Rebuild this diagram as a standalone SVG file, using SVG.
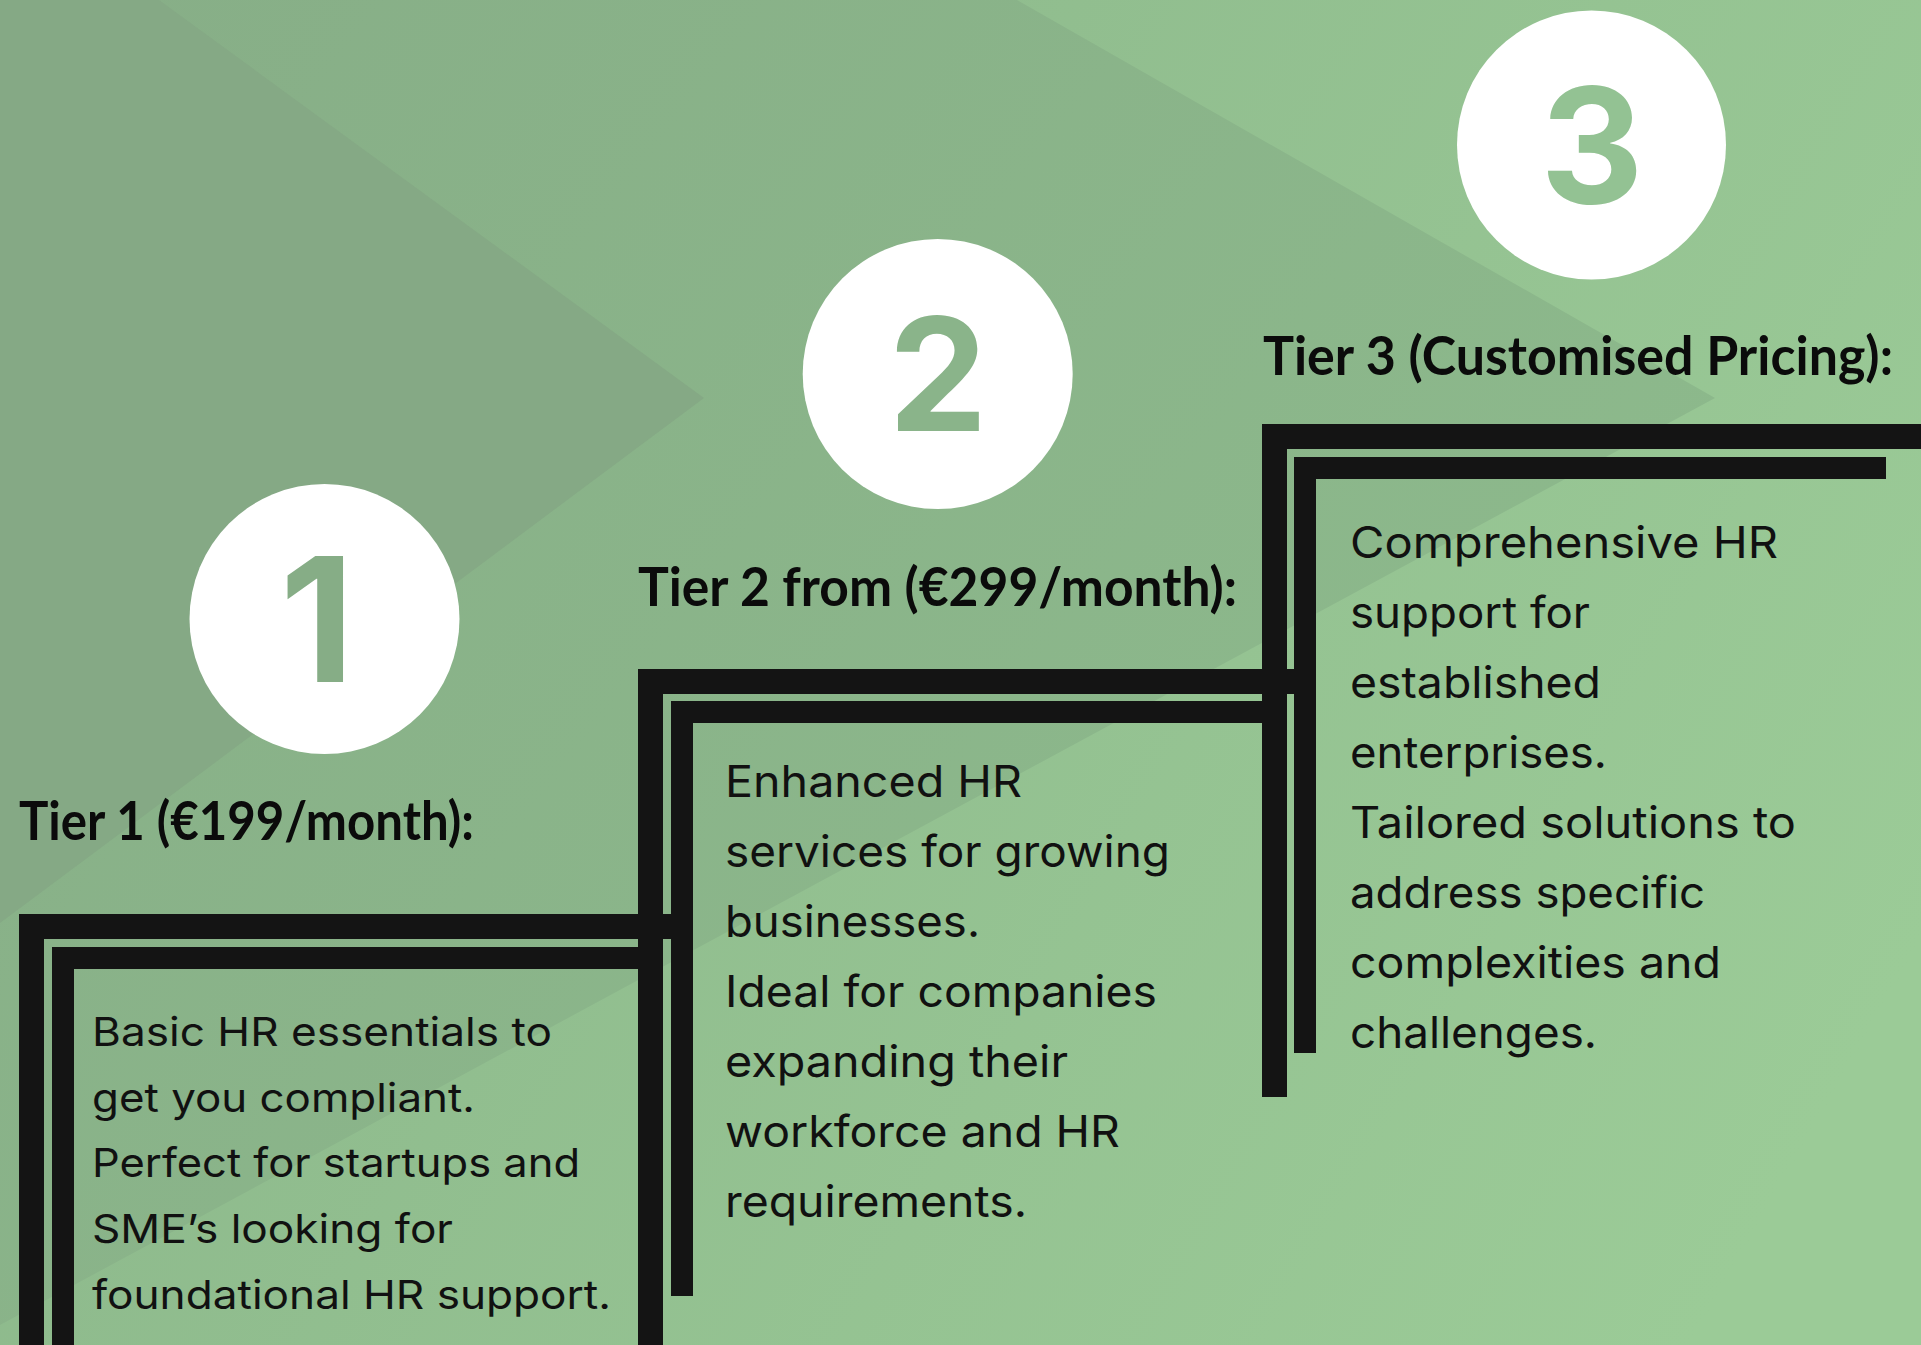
<svg xmlns="http://www.w3.org/2000/svg" width="1921" height="1345" viewBox="0 0 1921 1345">
  <defs>
    <linearGradient id="bgLight" x1="0" y1="0.3" x2="1" y2="0.7">
      <stop offset="0" stop-color="#8bb68a"/>
      <stop offset="1" stop-color="#9bcb97"/>
    </linearGradient>
    <linearGradient id="bgMid" x1="0" y1="0" x2="1" y2="0.6">
      <stop offset="0" stop-color="#87ae87"/>
      <stop offset="1" stop-color="#8dba8c"/>
    </linearGradient>
    <style>
      .bar { fill: #141414; }
      .badge { fill: #ffffff; }
      .digit { font-family: Inter, "Liberation Sans", sans-serif; font-weight: 700; text-anchor: middle; }
      .label { font-family: Lato, Inter, "Liberation Sans", sans-serif; font-weight: 700; font-size: 53px; fill: #0b0b0b; }
      .body { font-family: Inter, "Liberation Sans", sans-serif; font-weight: 400; font-size: 44px; fill: #111111; }
      .body1 { font-size: 40px; }
    </style>
  </defs>

  <g id="background">
    <rect x="0" y="0" width="1921" height="1345" fill="url(#bgLight)"/>
    <polygon points="0,0 1017,0 1715,398 0,1325" fill="url(#bgMid)"/>
    <polygon points="0,0 159,0 704,398 0,923" fill="#85a985"/>
  </g>

  <g id="tier1">
    <rect class="bar" x="19" y="914" width="655" height="25"/>
    <rect class="bar" x="19" y="914" width="25" height="431"/>
    <rect class="bar" x="52" y="947" width="586" height="22"/>
    <rect class="bar" x="52" y="947" width="22" height="398"/>
    <circle class="badge" cx="324.5" cy="619" r="135"/>
    <text class="digit" x="317" y="682" font-size="173" fill="#86ad86">1</text>
    <text class="label" x="19" y="840" textLength="455" lengthAdjust="spacingAndGlyphs">Tier 1 (€199/month):</text>
    <text class="body body1" x="92" y="1046" textLength="460" lengthAdjust="spacingAndGlyphs">Basic HR essentials to</text>
    <text class="body body1" x="92" y="1112" textLength="383" lengthAdjust="spacingAndGlyphs">get you compliant.</text>
    <text class="body body1" x="92" y="1177" textLength="488" lengthAdjust="spacingAndGlyphs">Perfect for startups and</text>
    <text class="body body1" x="92" y="1243" textLength="361" lengthAdjust="spacingAndGlyphs">SME’s looking for</text>
    <text class="body body1" x="92" y="1309" textLength="519" lengthAdjust="spacingAndGlyphs">foundational HR support.</text>
  </g>

  <g id="tier2">
    <rect class="bar" x="638" y="669" width="656" height="25"/>
    <rect class="bar" x="638" y="669" width="25" height="676"/>
    <rect class="bar" x="671" y="701" width="591" height="22"/>
    <rect class="bar" x="671" y="701" width="22" height="595"/>
    <circle class="badge" cx="937.7" cy="374" r="135"/>
    <text class="digit" x="938" y="431" font-size="157" fill="#8ab48a">2</text>
    <text class="label" x="638" y="606" textLength="599" lengthAdjust="spacingAndGlyphs">Tier 2 from (€299/month):</text>
    <text class="body" x="725" y="797" textLength="297" lengthAdjust="spacingAndGlyphs">Enhanced HR</text>
    <text class="body" x="725" y="867" textLength="445" lengthAdjust="spacingAndGlyphs">services for growing</text>
    <text class="body" x="725" y="937" textLength="255" lengthAdjust="spacingAndGlyphs">businesses.</text>
    <text class="body" x="725" y="1007" textLength="432" lengthAdjust="spacingAndGlyphs">Ideal for companies</text>
    <text class="body" x="725" y="1077" textLength="343" lengthAdjust="spacingAndGlyphs">expanding their</text>
    <text class="body" x="725" y="1147" textLength="395" lengthAdjust="spacingAndGlyphs">workforce and HR</text>
    <text class="body" x="725" y="1217" textLength="302" lengthAdjust="spacingAndGlyphs">requirements.</text>
  </g>

  <g id="tier3">
    <rect class="bar" x="1262" y="424" width="659" height="25"/>
    <rect class="bar" x="1262" y="424" width="25" height="673"/>
    <rect class="bar" x="1294" y="457" width="592" height="22"/>
    <rect class="bar" x="1294" y="457" width="22" height="596"/>
    <circle class="badge" cx="1591.5" cy="145" r="134.5"/>
    <text class="digit" x="1592" y="203" font-size="160" fill="#93c293">3</text>
    <text class="label" x="1263" y="375" textLength="630" lengthAdjust="spacingAndGlyphs">Tier 3 (Customised Pricing):</text>
    <text class="body" x="1350" y="558" textLength="428" lengthAdjust="spacingAndGlyphs">Comprehensive HR</text>
    <text class="body" x="1350" y="628" textLength="240" lengthAdjust="spacingAndGlyphs">support for</text>
    <text class="body" x="1350" y="698" textLength="251" lengthAdjust="spacingAndGlyphs">established</text>
    <text class="body" x="1350" y="768" textLength="257" lengthAdjust="spacingAndGlyphs">enterprises.</text>
    <text class="body" x="1350" y="838" textLength="446" lengthAdjust="spacingAndGlyphs">Tailored solutions to</text>
    <text class="body" x="1350" y="908" textLength="355" lengthAdjust="spacingAndGlyphs">address specific</text>
    <text class="body" x="1350" y="978" textLength="371" lengthAdjust="spacingAndGlyphs">complexities and</text>
    <text class="body" x="1350" y="1048" textLength="247" lengthAdjust="spacingAndGlyphs">challenges.</text>
  </g>

  <g id="connectors"></g>
</svg>
